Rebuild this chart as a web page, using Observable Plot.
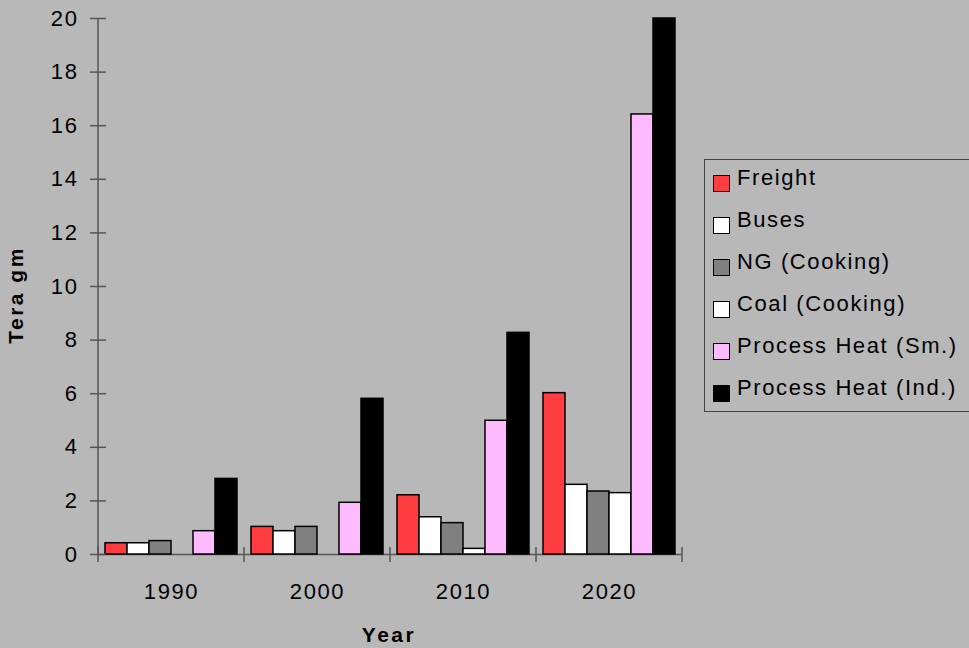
<!DOCTYPE html>
<html>
<head>
<meta charset="utf-8">
<script src="https://cdn.jsdelivr.net/npm/d3@7"></script>
<script src="https://cdn.jsdelivr.net/npm/@observablehq/plot@0.6"></script>
<style>
  html, body { margin: 0; padding: 0; background: #b8b8b8; overflow: hidden; }
  #chart {
    position: relative; width: 969px; height: 648px; overflow: hidden;
    background: #b8b8b8; color: #000;
    font-family: "Liberation Sans", Arial, sans-serif;
  }
  #chart svg { position: absolute; left: 0; top: 0; }
  .axis-title {
    position: absolute; font-weight: bold; font-size: 21px; line-height: 21px;
    letter-spacing: 2.5px; white-space: nowrap;
  }
  #x-title { left: 389px; top: 624px; transform: translateX(-50%); }
  #y-title { left: 15px; top: 295px; transform: translate(-50%, -50%) rotate(-90deg); }
  #legend {
    position: absolute; left: 704px; top: 159px; width: 290px; height: 253px;
    box-sizing: border-box; border: 1.5px solid #444;
  }
  .swatch {
    position: absolute; left: 713px; width: 17px; height: 17px;
    box-sizing: border-box; border: 1.5px solid #000;
  }
  .entry {
    position: absolute; left: 737px; font-size: 22px; line-height: 22px;
    letter-spacing: 1.6px; white-space: nowrap;
  }
</style>
</head>
<body>
<div id="chart"></div>
<script>
// Emissions by end use, in Tera gm
const years = ["1990", "2000", "2010", "2020"];
const series = ["Freight", "Buses", "NG (Cooking)", "Coal (Cooking)", "Process Heat (Sm.)", "Process Heat (Ind.)"];
const colors = ["#ff3c40", "#ffffff", "#808080", "#ffffff", "#ffbbff", "#000000"];

const freight     = [0.42, 1.03, 2.21, 6.02];
const buses       = [0.42, 0.87, 1.39, 2.60];
const ngCooking   = [0.50, 1.03, 1.17, 2.35];
const coalCooking = [0.00, 0.00, 0.21, 2.29];
const heatSmall   = [0.87, 1.93, 4.99, 16.42];
const heatInd     = [2.82, 5.81, 8.27, 20.00];

const yTicks = [0, 2, 4, 6, 8, 10, 12, 14, 16, 18, 20];
const yLabel = "Tera gm";
const xLabel = "Year";

const seriesValues = [freight, buses, ngCooking, coalCooking, heatSmall, heatInd];
const rows = [];
years.forEach((year, i) => {
  series.forEach((name, j) => {
    const value = seriesValues[j][i];
    if (value > 0) rows.push({year, series: name, value});
  });
});

const chart = Plot.plot({
  width: 969,
  height: 648,
  marginLeft: 96,
  marginRight: 286,
  marginTop: 18,
  marginBottom: 94,
  style: {
    background: "transparent",
    fontFamily: "'Liberation Sans', Arial, sans-serif",
    fontSize: "22px",
    letterSpacing: "1.6px",
    color: "black",
    overflow: "visible"
  },
  fx: {domain: years, paddingInner: 0, paddingOuter: 0, label: null},
  x: {domain: series, paddingInner: 0, paddingOuter: 0.26, axis: null},
  y: {domain: [0, 20], label: null},
  color: {domain: series, range: colors},
  marks: [
    Plot.ruleY([0], {stroke: "#555", strokeWidth: 1.5}),
    Plot.barY(rows, {
      fx: "year", x: "series", y: "value",
      fill: "series", stroke: "black", strokeWidth: 1.5
    }),
    Plot.axisY({
      ticks: yTicks, tickSize: 16, tickPadding: 12, dx: 8,
      stroke: "#555", strokeWidth: 1.5, fill: "black", label: null
    }),
    Plot.axisFx({anchor: "bottom", tickSize: 0, tickPadding: 29, fill: "black", label: null})
  ]
});

const container = document.getElementById("chart");
container.appendChild(chart);

// Vertical axis line and the group separator ticks on the horizontal axis
const fxScale = chart.scale("fx");
const yScale = chart.scale("y");
const edges = years.map((d) => fxScale.apply(d));
edges.push(fxScale.apply(years[years.length - 1]) + fxScale.bandwidth);
const y0 = yScale.apply(0);
const yTop = yScale.apply(yTicks[yTicks.length - 1]);
const svg = d3.select(chart);
svg.append("line")
  .attr("x1", edges[0]).attr("x2", edges[0])
  .attr("y1", yTop).attr("y2", y0)
  .attr("stroke", "#555").attr("stroke-width", 1.5);
svg.append("g")
  .selectAll("line")
  .data(edges)
  .join("line")
  .attr("x1", (d) => d).attr("x2", (d) => d)
  .attr("y1", y0 - 7).attr("y2", y0 + 8)
  .attr("stroke", "#555").attr("stroke-width", 1.5);

// Axis titles
const root = d3.select(container);
root.append("div").attr("class", "axis-title").attr("id", "x-title").text(xLabel);
root.append("div").attr("class", "axis-title").attr("id", "y-title").text(yLabel);

// Legend
root.append("div").attr("id", "legend");
series.forEach((name, i) => {
  root.append("div").attr("class", "swatch")
    .style("top", `${175 + 42 * i}px`)
    .style("background", colors[i]);
  root.append("div").attr("class", "entry")
    .style("top", `${167.4 + 42 * i}px`)
    .text(name);
});
</script>
</body>
</html>
